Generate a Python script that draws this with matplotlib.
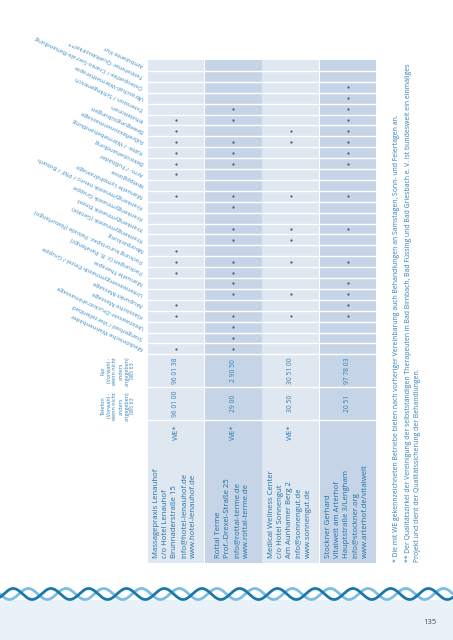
import numpy as np
import matplotlib
matplotlib.use("Agg")
import matplotlib.pyplot as plt
from matplotlib.patches import Rectangle

plt.rcParams['font.family'] = ['Open Sans', 'DejaVu Sans']

# ---------------- data ----------------
features = [
    "Ambulante Kur",
    "Teilnehmer Qualitätszirkel**",
    "Osteopathie / Cranio-Sacrale-Behandlung",
    "Ultraschall-Wärmetherapie",
    "Extension / Schlingentisch",
    "Inhalationen",
    "Bewegungsübungen",
    "Fußreflexzonenmassage",
    "Kälte- / Wärmebehandlung",
    "Elektrobehandlung",
    "Arm- / Fußbäder",
    "Kneippgüsse",
    "Manuelle Lymphdrainage",
    "Krankengymnastik neuro / PNF / Bobath",
    "Krankengymnastik Gruppe",
    "Krankengymnastik Einzel",
    "Krankengymnastik (Geräte)",
    "Moorpackung",
    "Packung kurortspez. Peloide (Naturfango)",
    "Packungen (z. B. Parafango)",
    "Manuelle Therapie",
    "Unterwassergymnastik Einzel / Gruppe",
    "Akupunkt-Massage",
    "Klassische Massage",
    "Unterwasser-Druckstrahlmassage",
    "Stangerbad / Vierzellenbad",
    "Medizinische Wannenbäder",
]

# offered[feature][provider]  (1 = dot)
offered = [
    [0, 0, 0, 0],
    [0, 0, 0, 0],
    [0, 0, 0, 1],
    [0, 0, 0, 1],
    [0, 1, 0, 1],
    [1, 1, 0, 1],
    [1, 0, 1, 1],
    [1, 1, 1, 1],
    [1, 1, 0, 1],
    [1, 1, 0, 1],
    [1, 0, 0, 0],
    [0, 0, 0, 0],
    [1, 1, 1, 1],
    [0, 1, 0, 0],
    [0, 0, 0, 0],
    [0, 1, 1, 1],
    [0, 1, 1, 0],
    [1, 0, 0, 0],
    [1, 1, 1, 1],
    [1, 1, 0, 0],
    [0, 1, 0, 1],
    [0, 1, 1, 1],
    [1, 0, 0, 1],
    [1, 1, 1, 1],
    [0, 1, 0, 0],
    [0, 1, 0, 0],
    [1, 1, 0, 0],
]

fax = ["96 01 38", "2 90 50", "30 51 00", "97 78 03"]
phone = ["96 01 00", "29 00", "30 50", "20 51"]
weekend = ["WE*", "WE*", "WE*", ""]
addresses = [
    ["Massagepraxis Lenauhof", "c/o Hotel Lenauhof", "Brunnaderstraße 15",
     "info@hotel-lenauhof.de", "www.hotel-lenauhof.de"],
    ["Rottal Terme", "Prof.-Drexel-Straße 25", "info@rottal-terme.de",
     "www.rottal-terme.de"],
    ["Medical Wellness Center", "c/o Hotel Sonnengut", "Am Aunhamer Berg 2",
     "info@sonnengut.de", "www.sonnengut.de"],
    ["Stockner Gerhard", "Vitalwelt am Arterhof", "Hauptstraße 3/Lengham",
     "info@stockner.org", "www.arterhof.de/vitalwelt"],
]
fax_header = "Fax\n(Vorwahl -\nwenn nicht\nanders\nangegeben)\n085 63"
phone_header = "Telefon\n(Vorwahl -\nwenn nicht\nanders\nangegeben)\n085 63"
footnotes = [
    "* Die mit WE gekennzeichneten Betriebe bieten nach vorheriger Vereinbarung auch Behandlungen an Samstagen, Sonn- und Feiertagen an.",
    "** Der Qualitätszirkel der Vereinigung der selbstständigen Therapeuten in Bad Birnbach, Bad Füssing und Bad Griesbach e. V. ist bundesweit ein einmaliges",
    "Projekt und dient der Qualitätssicherung der Behandlungen.",
]
page_number = "135"

# ---------------- layout ----------------
W, H = 453, 640
fig = plt.figure(figsize=(W / 100, H / 100), dpi=100)
ax = fig.add_axes([0, 0, 1, 1])
ax.set_xlim(0, W)
ax.set_ylim(H, 0)
ax.axis("off")

blue_txt = "#2f80b8"
addr_txt = "#1d6fa9"
light = "#dfe7f1"
dark = "#c5d4e6"

col_left = [147.7, 205.0, 262.3, 319.7]
col_w = 56.5
col_c = [l + col_w / 2 for l in col_left]
top = 60.0
n = len(features)
row_h = 10.9
feat_bottom = top + n * row_h
fax_bottom = feat_bottom + 33
tel_bottom = fax_bottom + 33
table_bottom = 563

# column backgrounds
for i, l in enumerate(col_left):
    ax.bar(l + col_w / 2, table_bottom - top, bottom=top, width=col_w,
           color=light if i % 2 == 0 else dark, linewidth=0, zorder=1)

# row separators
seps = [top + k * row_h for k in range(1, n + 1)] + [fax_bottom, tel_bottom]
ax.hlines(seps, col_left[0] - 1, col_left[-1] + col_w + 1, colors="white",
          linewidth=1.0, zorder=2)

# dots
arr = np.array(offered)
rr, cc = np.nonzero(arr)
ax.scatter([col_c[c] for c in cc], [top + (r + 0.5) * row_h for r in rr],
           s=2.6, color="#4c5b70", linewidths=0, zorder=3)

# feature labels
for r, name in enumerate(features):
    ax.text(143, top + (r + 0.5) * row_h, name, rotation=155,
            rotation_mode="anchor", ha="left", va="center",
            fontsize=4.4, color="#3a8cc4", zorder=3)

# fax / phone / WE
fy = (feat_bottom + fax_bottom) / 2
ty = (fax_bottom + tel_bottom) / 2
for i in range(4):
    ax.text(col_c[i], fy, fax[i], rotation=90, ha="center", va="center",
            fontsize=4.8, color=blue_txt, zorder=3)
    ax.text(col_c[i], ty, phone[i], rotation=90, ha="center", va="center",
            fontsize=4.8, color=blue_txt, zorder=3)
    if weekend[i]:
        ax.text(col_c[i], 432, weekend[i], rotation=90, ha="center",
                va="center", fontsize=5.6, color=blue_txt, zorder=3)
    lines = addresses[i]
    m = len(lines)
    for j, line in enumerate(lines):
        x = col_c[i] - 1 + (j - (m - 1) / 2) * 9.2
        ax.text(x, 558, line, rotation=90, rotation_mode="anchor",
                ha="left", va="center", fontsize=5.6, color=addr_txt, zorder=3)

ax.text(118, fy, fax_header, rotation=90, ha="center", va="center",
        multialignment="center", fontsize=3.9, linespacing=1.25,
        color=blue_txt)
ax.text(118, ty + 2, phone_header, rotation=90, ha="center", va="center",
        multialignment="center", fontsize=3.9, linespacing=1.25,
        color=blue_txt)

# footnotes
for x, t in zip([397, 409, 417.5], footnotes):
    ax.text(x, 562, t, rotation=90, rotation_mode="anchor", ha="left",
            va="center", fontsize=4.95, color=blue_txt)

# bottom band + ornament
ax.add_patch(Rectangle((0, 600), W, 40, color="#e9f1f9", zorder=0, linewidth=0))
xs = np.linspace(-5, W + 5, 1500)
period = W / 12.0
ax.plot(xs, 594 + 5.5 * np.sin(2 * np.pi * xs / period), color="#7cbde2",
        linewidth=2.0, zorder=2, solid_capstyle="round")
ax.plot(xs, 594 + 5.5 * np.sin(2 * np.pi * xs / period + np.pi * 0.8),
        color="#1b78ad", linewidth=2.0, zorder=3, solid_capstyle="round")

ax.text(430, 623, page_number, ha="center", va="center", fontsize=5.5,
        color="#4a4a4a")

fig.savefig("out.png", dpi=100)
